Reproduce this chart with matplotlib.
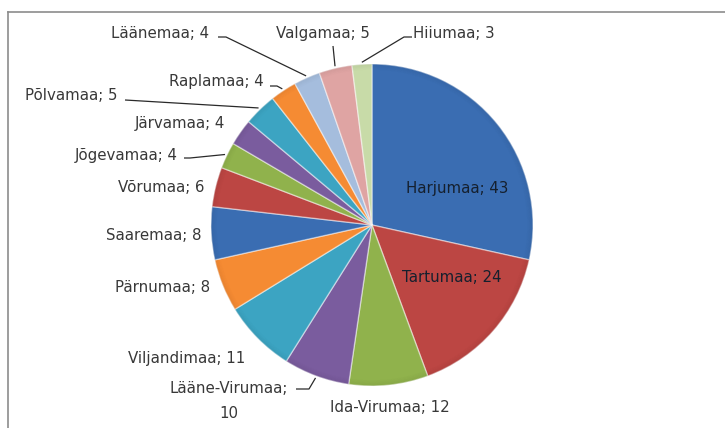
import matplotlib
matplotlib.use("Agg")
import matplotlib.pyplot as plt
from matplotlib.lines import Line2D
from matplotlib.patches import Wedge
import numpy as np

# ---- data ----
counties = ["Harjumaa", "Tartumaa", "Ida-Virumaa", "Lääne-Virumaa", "Viljandimaa",
            "Pärnumaa", "Saaremaa", "Võrumaa", "Jõgevamaa", "Järvamaa",
            "Põlvamaa", "Raplamaa", "Läänemaa", "Valgamaa", "Hiiumaa"]
values = [43, 24, 12, 10, 11, 8, 8, 6, 4, 4, 5, 4, 4, 5, 3]

# ---- style ----
colors = ["#3A6DB2", "#BC4643", "#90B24C", "#7A5C9E", "#3CA4C2", "#F58B33",
          "#3A6DB2", "#BC4643", "#90B24C", "#7A5C9E", "#3CA4C2", "#F58B33",
          "#A5BDDD", "#DFA4A3", "#C8DBA8"]

W, H = 725, 428
plt.rcParams['font.family'] = ['DejaVu Sans']
fig = plt.figure(figsize=(W / 100, H / 100), dpi=100)
ax = fig.add_axes([0, 0, 1, 1])

cx, cy, R = 372, H - 225, 161
wedges, _ = ax.pie(values, colors=colors, startangle=90, counterclock=False,
                   center=(cx, cy), radius=R,
                   wedgeprops=dict(edgecolor=(1, 1, 1, 0.45), linewidth=1.0))
ax.set_xlim(0, W)
ax.set_ylim(0, H)
ax.set_aspect('equal')
ax.axis('off')

# subtle bevel shading near the rim of each slice
for w in wedges:
    for k in range(6):
        ax.add_patch(Wedge((cx, cy), R - k, w.theta1, w.theta2, width=1.0,
                           facecolor=(0, 0, 0, 0.05 * (6 - k) / 6), edgecolor="none"))

# label layout in pixel coords (x, y from top), horizontal alignment,
# leader anchor and optional stub point
layout = {
    "Harjumaa":      dict(pos=(457, 188), ha="center"),
    "Tartumaa":      dict(pos=(452, 277), ha="center"),
    "Ida-Virumaa":   dict(pos=(390, 408), ha="center"),
    "Lääne-Virumaa": dict(pos=(229, 401), ha="center", anchor=(296, 389), stub=(309, 389)),
    "Viljandimaa":   dict(pos=(187, 358), ha="center"),
    "Pärnumaa":      dict(pos=(163, 288), ha="center"),
    "Saaremaa":      dict(pos=(154, 235), ha="center"),
    "Võrumaa":       dict(pos=(161, 187), ha="center"),
    "Jõgevamaa":     dict(pos=(126, 155), ha="center", anchor=(184, 158), stub=(190, 158)),
    "Järvamaa":      dict(pos=(180, 123), ha="center"),
    "Põlvamaa":      dict(pos=(71, 95), ha="center", anchor=(125, 100)),
    "Raplamaa":      dict(pos=(216, 81), ha="center", anchor=(270, 86), stub=(277, 86)),
    "Läänemaa":      dict(pos=(160, 33), ha="center", anchor=(218, 37), stub=(226, 37)),
    "Valgamaa":      dict(pos=(323, 33), ha="center", anchor=(333, 46)),
    "Hiiumaa":       dict(pos=(413, 33), ha="left", anchor=(412, 37), stub=(404, 37)),
}

txt_color = "#383838"
for name, v, w in zip(counties, values, wedges):
    L = layout[name]
    x, y = L["pos"]
    sep = ";\n" if name == "Lääne-Virumaa" else "; "
    inside = name in ("Harjumaa", "Tartumaa")
    ax.text(x, H - y, f"{name}{sep}{v}", ha=L["ha"], va="center",
            fontsize=10.8, color="#15202e" if inside else txt_color,
            linespacing=1.85)
    if "anchor" in L:
        mid = np.deg2rad((w.theta1 + w.theta2) / 2)
        ex = cx + (R + 2) * np.cos(mid)
        ey = cy + (R + 2) * np.sin(mid)
        pts = [L["anchor"]]
        if "stub" in L:
            pts.append(L["stub"])
        xs = [p[0] for p in pts] + [ex]
        ys = [H - p[1] for p in pts] + [ey]
        ax.plot(xs, ys, color="#2a2a2a", lw=0.9, solid_capstyle="butt")

# chart area frame (top and left edges visible)
fig.add_artist(Line2D([8 / W, 1], [1 - 12 / H, 1 - 12 / H], color="#8c8c8c", lw=1.2,
                      transform=fig.transFigure))
fig.add_artist(Line2D([8 / W, 8 / W], [0, 1 - 12 / H], color="#8c8c8c", lw=1.2,
                      transform=fig.transFigure))

fig.savefig("out.png", dpi=100, facecolor="white")
